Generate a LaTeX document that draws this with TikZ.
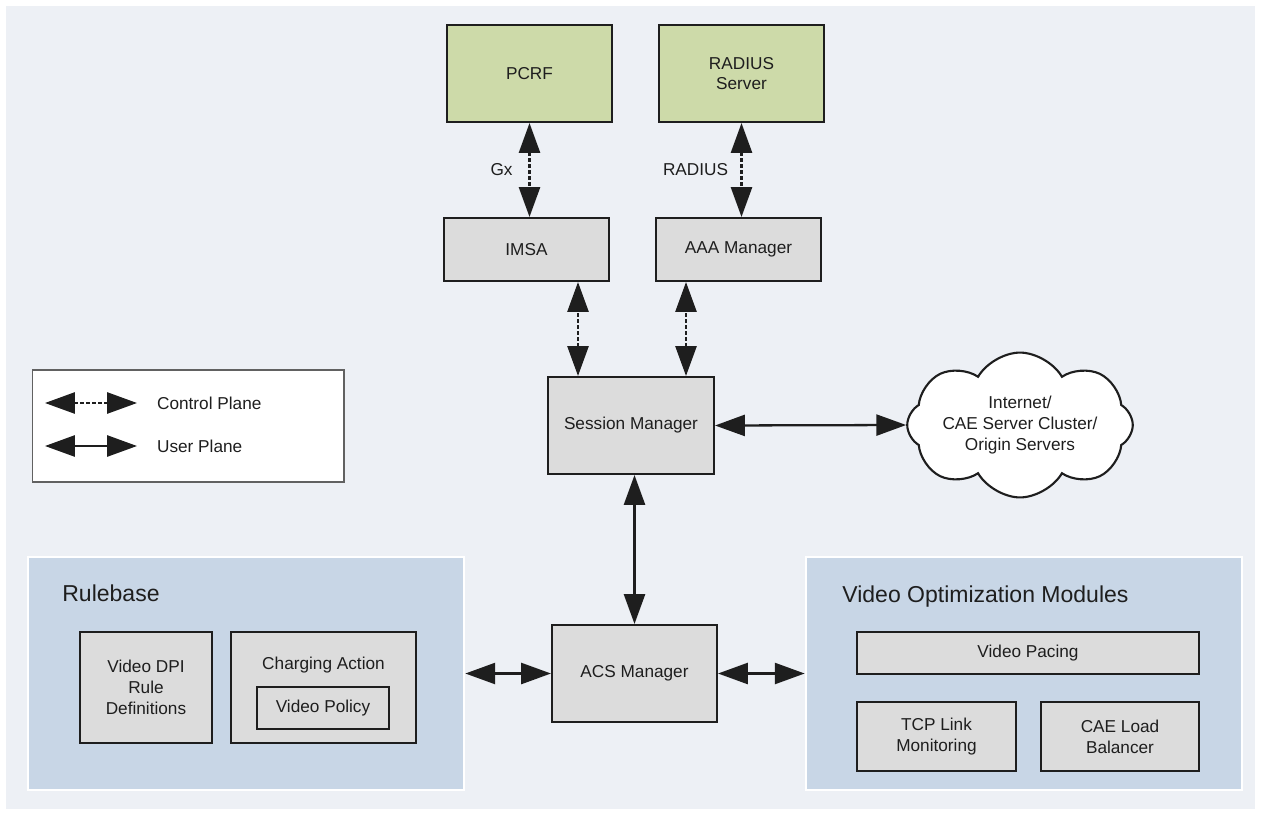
\documentclass[tikz,border=0pt]{standalone}
\usepackage{fontspec}
\setmainfont{Liberation Sans}
\usepackage{tikz}
\usetikzlibrary{arrows.meta, positioning, calc, shapes.symbols}
\definecolor{ink}{HTML}{1E1E1E}
\definecolor{page}{HTML}{EDF0F5}
\definecolor{panel}{HTML}{C8D6E6}
\definecolor{boxgray}{HTML}{DCDCDC}
\definecolor{boxgreen}{HTML}{CDDAA9}
\tikzset{
  font=\fontsize{9.8}{11.8}\selectfont,
  >={Triangle[length=17pt, width=12pt]},
  %
  box/.style={
    draw=ink, line width=1.2pt, fill=boxgray, align=center, text=ink,
    inner sep=2pt,
  },
  boxg/.style={box, fill=boxgreen},
  panelbox/.style={draw=white, line width=1.6pt, fill=panel},
  %
  user/.style={draw=ink, line width=1.3pt, <->},
  ctrl/.style={user, dash pattern=on 2pt off 1.4pt},
  %
  lbl/.style={text=ink, inner sep=1pt},
  title/.style={text=ink, font=\fontsize{13.1}{15}\selectfont, anchor=west,
                inner sep=0pt},
}

\begin{document}
\begin{tikzpicture}[x=0.02cm, y=-0.02cm]

  \useasboundingbox (0,0) rectangle (1261,815);
  \fill[page] (6,6) rectangle (1255,809);

  % external servers
  \node[boxg, minimum width=3.3cm, minimum height=1.94cm] (pcrf)   at (529.5,73.5) {PCRF};
  \node[boxg, minimum width=3.3cm, minimum height=1.94cm] (radius) at (741.5,73.5) {RADIUS\\Server};

  \node[box, minimum width=3.3cm, minimum height=1.26cm] (imsa) at (526.5,249.5) {IMSA};
  \node[box, minimum width=3.3cm, minimum height=1.26cm] (aaa)  at (738.5,249.5) {AAA Manager};

  \draw[ctrl] (pcrf.south) -- node[lbl, left=8pt] {Gx} (pcrf.south |- imsa.north);
  \draw[ctrl] (radius.south) -- node[lbl, left=6pt] {RADIUS} (radius.south |- aaa.north);

  \node[box, minimum width=3.32cm, minimum height=1.94cm] (session) at (631,425.5) {Session Manager};

  \coordinate (imsain) at ($(session.north)+(-53,0)$);
  \coordinate (aaain)  at ($(session.north)+(55,0)$);
  \draw[ctrl] (imsain) -- (imsain |- imsa.south);
  \draw[ctrl] (aaain) -- (aaain |- aaa.south);

  \node[cloud, cloud puffs=8, cloud puff arc=120, aspect=2.1, draw=ink, line width=1.2pt,
        fill=white, align=center, text=ink, minimum width=4.5cm, minimum height=2.3cm,
        inner sep=0pt] (cloud) at (1020,425)
    {Internet/\\CAE Server Cluster/\\Origin Servers};
  \draw[user] (session.east) -- (cloud.west);

  % legend
  \node[draw=ink!70, line width=0.6pt, fill=white, minimum width=6.24cm,
        minimum height=2.24cm] (legend) at (188,426) {};
  \coordinate (ctrla) at (45,403);
  \coordinate (ctrlb) at (137,403);
  \coordinate (usera) at (45,446);
  \coordinate (userb) at (137,446);
  \draw[ctrl] (ctrla) -- (ctrlb);
  \draw[user] (usera) -- (userb);
  \node[lbl, anchor=west] (ctrltext) at (155,403) {Control Plane};
  \node[lbl, anchor=west] (usertext) at (155,446) {User Plane};

  % ACS and its neighbours
  \node[box, minimum width=3.3cm, minimum height=1.94cm] (acs) at (634.5,673.5) {ACS Manager};
  \draw[user] (acs.north) -- (acs.north |- session.south);

  \node[panelbox, minimum width=8.72cm, minimum height=4.66cm] (rulebase) at (246,673.5) {};
  \node[title] (rbtitle) at (62,593) {Rulebase};
  \node[box, minimum width=2.64cm, minimum height=2.22cm] (dpi) at (146,687.5)
    {Video DPI\\Rule\\Definitions};
  \node[box, minimum width=3.7cm, minimum height=2.22cm] (charging) at (323.5,687.5) {};
  \node[lbl] (chargingtext) at (323.5,665) {Charging Action};
  \node[box, minimum width=2.64cm, minimum height=0.84cm] (policy) at (323,708) {Video Policy};

  \node[panelbox, minimum width=8.72cm, minimum height=4.66cm] (vom) at (1024,673.5) {};
  \node[title] (vomtitle) at (842,597) {Video Optimization Modules};
  \node[box, minimum width=6.84cm, minimum height=0.84cm] (pacing) at (1028,653) {Video Pacing};
  \node[box, minimum width=3.18cm, minimum height=1.38cm] (tcp) at (936.5,736.5)
    {TCP Link\\Monitoring};
  \node[box, minimum width=3.16cm, minimum height=1.38cm] (caelb) at (1120,736.5)
    {CAE Load\\Balancer};

  \draw[user] (acs.west) -- (rulebase.east);
  \draw[user] (acs.east) -- (vom.west);

\end{tikzpicture}
\end{document}
